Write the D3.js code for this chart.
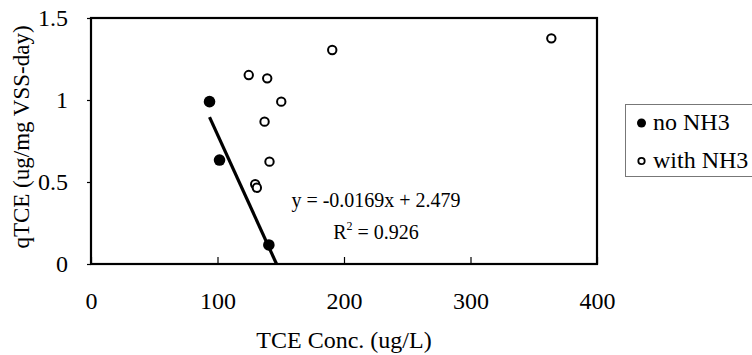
<!DOCTYPE html>
<html>
<head>
<meta charset="utf-8">
<script src="https://cdn.jsdelivr.net/npm/d3@7"></script>
<style>
  html, body { margin: 0; padding: 0; background: #fff; }
  svg { display: block; }
  .axis line { stroke: #000; stroke-width: 1.2; }
  .axis path { display: none; }
</style>
</head>
<body>
<svg id="chart" width="752" height="355"></svg>
<script>
(function () {
  "use strict";

  const SERIF = "'Liberation Serif', 'Times New Roman', Times, serif";

  // TCE conc. (ug/L) vs qTCE (ug/mg VSS-day)
  const noNH3X = [93.7, 101.6, 140.6];
  const noNH3Y = [0.99, 0.634, 0.116];
  const withNH3X = [124.7, 139.3, 150.4, 137.2, 141.1, 129.8, 131.1, 190.7, 363.9];
  const withNH3Y = [1.152, 1.132, 0.99, 0.868, 0.624, 0.486, 0.465, 1.305, 1.376];
  const trendSlope = -0.0169;
  const trendIntercept = 2.479;
  const xTicks = [0, 100, 200, 300, 400];
  const yTicks = [0, 0.5, 1, 1.5];
  const legendLabels = ["no NH3", "with NH3"];
  const equationText = "y = -0.0169x + 2.479";
  const r2Value = "0.926";

  const svg = d3.select("#chart");
  const margin = { top: 18, right: 155, bottom: 91, left: 91 };
  const width = 752 - margin.left - margin.right;
  const height = 355 - margin.top - margin.bottom;

  const x = d3.scaleLinear().domain([0, 400]).range([margin.left, margin.left + width]);
  const y = d3.scaleLinear().domain([0, 1.5]).range([margin.top + height, margin.top]);

  const noNH3 = noNH3X.map((v, i) => ({ x: v, y: noNH3Y[i] }));
  const withNH3 = withNH3X.map((v, i) => ({ x: v, y: withNH3Y[i] }));

  const xAxis = svg.append("g")
    .attr("class", "axis")
    .attr("transform", `translate(0,${y(0)})`)
    .call(d3.axisBottom(x).tickValues(xTicks).tickSizeInner(-7).tickSizeOuter(0).tickPadding(28));
  xAxis.selectAll("text")
    .attr("font-family", SERIF)
    .attr("font-size", 24)
    .attr("fill", "#000");

  const yAxis = svg.append("g")
    .attr("class", "axis")
    .attr("transform", `translate(${x(0)},0)`)
    .call(d3.axisLeft(y).tickValues(yTicks).tickSizeInner(4).tickSizeOuter(0).tickPadding(19)
      .tickFormat(d => String(d)));
  yAxis.selectAll("text")
    .attr("font-family", SERIF)
    .attr("font-size", 24)
    .attr("fill", "#000");

  svg.append("rect")
    .attr("x", x(0))
    .attr("y", y(1.5))
    .attr("width", x(400) - x(0))
    .attr("height", y(0) - y(1.5))
    .attr("fill", "none")
    .attr("stroke", "#000")
    .attr("stroke-width", 2.2);

  // trend line for the no NH3 set, from smallest x down to where it meets 0
  const x0 = d3.min(noNH3X);
  const x1 = -trendIntercept / trendSlope;
  svg.append("line")
    .attr("x1", x(x0))
    .attr("y1", y(trendSlope * x0 + trendIntercept))
    .attr("x2", x(x1))
    .attr("y2", y(0))
    .attr("stroke", "#000")
    .attr("stroke-width", 3.2);

  svg.append("g")
    .selectAll("circle")
    .data(withNH3)
    .join("circle")
    .attr("cx", d => x(d.x))
    .attr("cy", d => y(d.y))
    .attr("r", 4.2)
    .attr("fill", "#fff")
    .attr("stroke", "#000")
    .attr("stroke-width", 2);

  svg.append("g")
    .selectAll("circle")
    .data(noNH3)
    .join("circle")
    .attr("cx", d => x(d.x))
    .attr("cy", d => y(d.y))
    .attr("r", 5.8)
    .attr("fill", "#000");

  const eq = svg.append("text")
    .attr("font-family", SERIF)
    .attr("text-anchor", "middle")
    .attr("font-size", 20);
  eq.append("tspan").attr("x", 376).attr("y", 207).text(equationText);
  const r2 = eq.append("tspan").attr("x", 376).attr("y", 239);
  r2.text("R");
  r2.append("tspan").attr("font-size", 12).attr("dy", -9).text("2");
  r2.append("tspan").attr("dy", 9).text(" = " + r2Value);

  svg.append("text")
    .attr("font-family", SERIF)
    .attr("x", (x(0) + x(400)) / 2)
    .attr("y", 348)
    .attr("text-anchor", "middle")
    .attr("font-size", 24)
    .text("TCE Conc. (ug/L)");

  svg.append("text")
    .attr("font-family", SERIF)
    .attr("transform", "translate(29,137) rotate(-90)")
    .attr("text-anchor", "middle")
    .attr("font-size", 23)
    .text("qTCE (ug/mg VSS-day)");

  // legend
  const legend = svg.append("g").attr("transform", "translate(625,104)");
  legend.append("rect")
    .attr("x", 0.5)
    .attr("y", 0.5)
    .attr("width", 140)
    .attr("height", 72)
    .attr("fill", "#fff")
    .attr("stroke", "#777")
    .attr("stroke-width", 1);

  const rows = legend.selectAll(".row")
    .data(legendLabels)
    .join("g")
    .attr("class", "row")
    .attr("transform", (d, i) => `translate(0,${19 + i * 38})`);

  rows.append("circle")
    .attr("cx", 16.5)
    .attr("cy", 0)
    .attr("r", (d, i) => i === 0 ? 4.5 : 3.2)
    .attr("fill", (d, i) => i === 0 ? "#000" : "#fff")
    .attr("stroke", "#000")
    .attr("stroke-width", (d, i) => i === 0 ? 0 : 1.8);

  rows.append("text")
    .attr("font-family", SERIF)
    .attr("x", 28)
    .attr("y", 7)
    .attr("font-size", 24)
    .text(d => d);
})();
</script>
</body>
</html>
